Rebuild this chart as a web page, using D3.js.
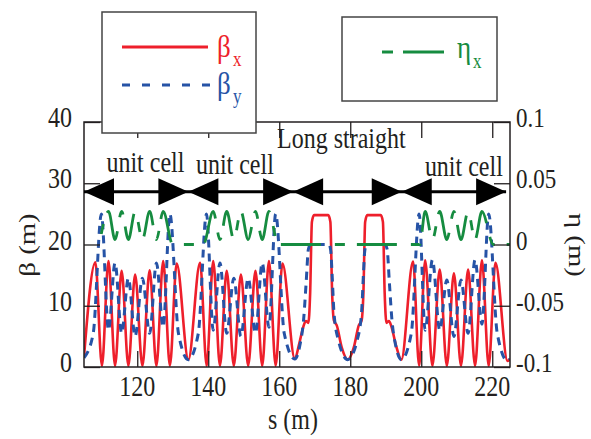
<!DOCTYPE html>
<html>
<head>
<meta charset="utf-8">
<script src="https://cdn.jsdelivr.net/npm/d3@7"></script>
<style>
  html, body { margin: 0; padding: 0; background: #fff; }
  svg { display: block; }
</style>
</head>
<body>
<svg id="chart" width="591" height="439"></svg>
<script>
// Lattice functions along the ring section: beta_x, beta_y (m) and dispersion eta_x (m)
const betaX = [
  [105.0, 1.6], [108.2, 17.1], [110.05, 0.2], [111.9, 17.3], [113.75, 0.2], [115.6, 15.7],
  [117.5, 0.2], [119.4, 15.1], [121.45, 0.2], [123.5, 15.8], [125.4, 0.2], [127.3, 17.3],
  [129.2, 0.2], [131.1, 16.9], [134.4, 1.2],
  [137.7, 17.0], [139.55, 0.2], [141.4, 17.3], [143.3, 0.2], [145.2, 15.7], [147.2, 0.2],
  [149.2, 15.1], [151.25, 0.2], [153.3, 15.7], [155.2, 0.2], [157.1, 17.3], [159.0, 0.2],
  [160.9, 16.9], [164.4, 1.3],
  [165.5, 3.5], [166.8, 6.6], [167.5, 7.5], [168.2, 7.2], [168.7, 12], [169.2, 23.7],
  [169.8, 24.8], [173.8, 24.8], [174.4, 23.7], [174.9, 12], [175.4, 7.6], [176.2, 6.8],
  [177.6, 3.2], [179.3, 1.2], [181.0, 3.2], [182.4, 6.8], [183.2, 7.6], [183.7, 12],
  [184.2, 23.7], [184.8, 24.8], [188.6, 24.8], [189.2, 23.7], [189.7, 12], [190.2, 7.2],
  [190.9, 7.5], [191.6, 6.6], [192.9, 3.5], [194.4, 1.2],
  [197.7, 17.2], [199.4, 0.2], [201.1, 17.4], [203.15, 0.2], [205.2, 15.9], [207.2, 0.2],
  [209.2, 15.3], [211.2, 0.2], [213.2, 15.9], [215.15, 0.2], [217.1, 17.4], [219.0, 0.2],
  [220.9, 17.0], [224.3, 1.0], [225.0, 1.3]
];

const betaY = [
  [105.0, 1.5], [107.6, 5.5], [109.9, 25.0], [111.9, 6.0], [113.75, 17.0], [115.6, 5.5],
  [117.5, 14.5], [119.4, 5.0], [121.45, 14.5], [123.5, 5.5], [125.4, 17.0], [127.3, 6.5],
  [129.2, 25.0], [131.6, 5.5], [134.4, 1.2],
  [137.2, 5.5], [139.5, 25.0], [141.4, 6.0], [143.3, 17.0], [145.2, 5.5], [147.2, 14.5],
  [149.2, 5.0], [151.25, 14.5], [153.3, 5.5], [155.2, 17.0], [157.1, 6.5], [159.0, 25.0],
  [161.4, 5.5], [164.4, 1.3],
  [165.8, 3.5], [166.9, 8.0], [167.6, 14.0], [168.2, 19.2], [168.8, 20.0], [174.0, 20.0],
  [174.5, 19.0], [174.9, 15.0], [175.4, 9.0], [176.6, 4.5], [179.3, 1.2], [182.0, 4.5],
  [183.2, 9.0], [183.7, 15.0], [184.1, 19.0], [184.6, 20.0], [189.8, 20.0], [190.4, 19.2],
  [191.0, 14.0], [191.7, 8.0], [192.8, 3.5], [194.4, 1.2],
  [197.2, 5.5], [199.4, 25.0], [201.1, 6.0], [203.15, 17.5], [205.2, 6.0], [207.2, 14.2],
  [209.2, 5.0], [211.2, 14.2], [213.2, 5.5], [215.15, 17.5], [217.1, 7.0], [219.0, 25.0],
  [221.4, 5.5], [224.3, 1.0], [225.0, 1.3]
];

const etaX = [
  [109.3, 0.0], [111.9, 0.027], [113.75, 0.004], [115.6, 0.027], [117.5, 0.004],
  [119.4, 0.027], [121.45, 0.004], [123.5, 0.027], [125.4, 0.004], [127.3, 0.027],
  [130.0, 0.0], [138.6, 0.0],
  [141.4, 0.027], [143.3, 0.004], [145.2, 0.027], [147.2, 0.004], [149.2, 0.027],
  [151.25, 0.004], [153.3, 0.027], [155.2, 0.004], [157.1, 0.027], [159.7, 0.0],
  [199.6, 0.0],
  [201.1, 0.027], [203.15, 0.004], [205.2, 0.027], [207.2, 0.004], [209.2, 0.027],
  [211.2, 0.004], [213.2, 0.027], [215.15, 0.004], [217.1, 0.027], [220.3, 0.0],
  [225.0, 0.0]
];
// the dash pattern of eta_x is phased to start where the long straight begins
const etaDashStart = 159.7;

// Section boundaries marked by the double-headed arrows, and their labels
const sectionEdges = [105, 134.4, 163.9, 194.5, 223.9];
const arrowLevel = 28.6;
const sectionLabels = [
  { text: "unit cell", s: 122.3, beta: 31.8 },
  { text: "unit cell", s: 147.5, beta: 31.5 },
  { text: "Long straight", s: 177.5, beta: 35.8 },
  { text: "unit cell", s: 212.0, beta: 31.2 }
];

const xTicks = [120, 140, 160, 180, 200, 220];
const yTicks = [0, 10, 20, 30, 40];
const etaTicks = [0.1, 0.05, 0, -0.05, -0.1];
const etaTickLabels = ["0.1", "0.05", "0", "-0.05", "-0.1"];

const RED = "#ee1f2b", BLUE = "#2653a6", GREEN = "#168c40", INK = "#231f20";
const FONT = "'Liberation Serif', 'Times New Roman', serif";
const STRETCH = 1.2;
const ETA_DASH = [40, 14, 10, 12];

const svg = d3.select("#chart");
const x = d3.scaleLinear().domain([105, 225]).range([84, 510]);
const y = d3.scaleLinear().domain([0, 40]).range([367, 122]);
const yEta = d3.scaleLinear().domain([-0.1, 0.1]).range([367, 122]);

function label(g, px, py, str, size, anchor, fill, rot) {
  return g.append("text")
    .attr("transform", `translate(${px},${py}) scale(1,${STRETCH})` + (rot ? ` rotate(${rot})` : ""))
    .attr("font-family", FONT)
    .attr("font-size", size)
    .attr("text-anchor", anchor || "start")
    .attr("fill", fill || INK)
    .text(str);
}

const plot = svg.append("g");
plot.append("defs").append("clipPath").attr("id", "clip")
  .append("rect").attr("x", 84).attr("y", 122).attr("width", 426).attr("height", 245);

// curves
const lineB = d3.line().x(d => x(d[0])).y(d => y(d[1])).curve(d3.curveMonotoneX);
const lineE = d3.line().x(d => x(d[0])).y(d => yEta(d[1])).curve(d3.curveMonotoneX);
const curves = plot.append("g").attr("clip-path", "url(#clip)");
curves.append("path").datum(betaX).attr("d", lineB)
  .attr("fill", "none").attr("stroke", RED).attr("stroke-width", 2.6);
curves.append("path").datum(betaY).attr("d", lineB)
  .attr("fill", "none").attr("stroke", BLUE).attr("stroke-width", 3)
  .attr("stroke-dasharray", "8,6");

// length of the eta path up to the straight, used to phase its dashes
const probe = curves.append("path")
  .attr("d", lineE(etaX.filter(d => d[0] <= etaDashStart)))
  .attr("fill", "none").attr("stroke", "none");
const period = d3.sum(ETA_DASH);
const lead = probe.node().getTotalLength();
probe.remove();
curves.append("path").datum(etaX).attr("d", lineE)
  .attr("fill", "none").attr("stroke", GREEN).attr("stroke-width", 2.8)
  .attr("stroke-dasharray", ETA_DASH.join(","))
  .attr("stroke-dashoffset", period - (lead % period));

// axes with inward ticks
const axisStyle = g => {
  g.select(".domain").remove();
  g.selectAll("line").attr("stroke", INK).attr("stroke-width", 1.3);
  g.selectAll("text").remove();
};
plot.append("g").attr("transform", "translate(0,367)")
  .call(d3.axisBottom(x).tickValues(xTicks).tickSize(-16)).call(axisStyle);
plot.append("g").attr("transform", "translate(0,122)")
  .call(d3.axisTop(x).tickValues(xTicks).tickSize(-16)).call(axisStyle);
plot.append("g").attr("transform", "translate(84,0)")
  .call(d3.axisLeft(y).tickValues(yTicks).tickSize(-16)).call(axisStyle);
plot.append("g").attr("transform", "translate(510,0)")
  .call(d3.axisRight(yEta).tickValues(etaTicks).tickSize(-16)).call(axisStyle);
plot.append("rect").attr("x", 84).attr("y", 122).attr("width", 426).attr("height", 245)
  .attr("fill", "none").attr("stroke", INK).attr("stroke-width", 1.5);

// section arrows
const ay = y(arrowLevel);
plot.append("line").attr("x1", x(sectionEdges[0])).attr("x2", x(sectionEdges[sectionEdges.length - 1]))
  .attr("y1", ay).attr("y2", ay).attr("stroke", "#000").attr("stroke-width", 3);
const heads = [];
for (let i = 0; i < sectionEdges.length - 1; i++) {
  heads.push({ tip: sectionEdges[i], dir: -1 });
  heads.push({ tip: sectionEdges[i + 1], dir: 1 });
}
plot.selectAll(".head").data(heads).join("path")
  .attr("d", d => {
    const t = x(d.tip), b = t - d.dir * 30;
    return `M${t},${ay}L${b},${ay - 13.5}L${b},${ay + 13.5}Z`;
  })
  .attr("fill", "#000");
sectionLabels.forEach(l => label(plot, x(l.s), y(l.beta), l.text, 24, "middle"));

// tick labels
yTicks.forEach(t => label(plot, 72, y(t) + 5, String(t), 24, "end"));
xTicks.forEach(t => label(plot, x(t), 396, String(t), 24, "middle"));
etaTicks.forEach((t, i) => label(plot, 516, yEta(t) + 5, etaTickLabels[i], 23, "start"));

// axis titles
label(plot, 293, 429, "s (m)", 24, "middle");
label(plot, 35, 245, "β (m)", 24, "middle", INK, -90);
label(plot, 569, 245, "η (m)", 24, "middle", INK, 90);

// legend boxes
const leg1 = svg.append("g");
leg1.append("rect").attr("x", 102).attr("y", 12).attr("width", 154).attr("height", 121)
  .attr("fill", "#fff").attr("stroke", "#444").attr("stroke-width", 1.5);
leg1.append("line").attr("x1", 122).attr("x2", 208).attr("y1", 47).attr("y2", 47)
  .attr("stroke", RED).attr("stroke-width", 3);
leg1.append("line").attr("x1", 122).attr("x2", 210).attr("y1", 85).attr("y2", 85)
  .attr("stroke", BLUE).attr("stroke-width", 3).attr("stroke-dasharray", "8,12");
label(leg1, 217, 57, "β", 27, "start", RED);
label(leg1, 233, 66, "x", 17, "start", RED);
label(leg1, 217, 94, "β", 27, "start", BLUE);
label(leg1, 233, 103, "y", 17, "start", BLUE);

const leg2 = svg.append("g");
leg2.append("rect").attr("x", 342).attr("y", 17).attr("width", 155).attr("height", 84)
  .attr("fill", "#fff").attr("stroke", "#444").attr("stroke-width", 1.5);
leg2.append("line").attr("x1", 382).attr("x2", 444).attr("y1", 52).attr("y2", 52)
  .attr("stroke", GREEN).attr("stroke-width", 3).attr("stroke-dasharray", "11,10,41,10");
label(leg2, 457, 58, "η", 27, "start", GREEN);
label(leg2, 473, 68, "x", 17, "start", GREEN);
</script>
</body>
</html>
